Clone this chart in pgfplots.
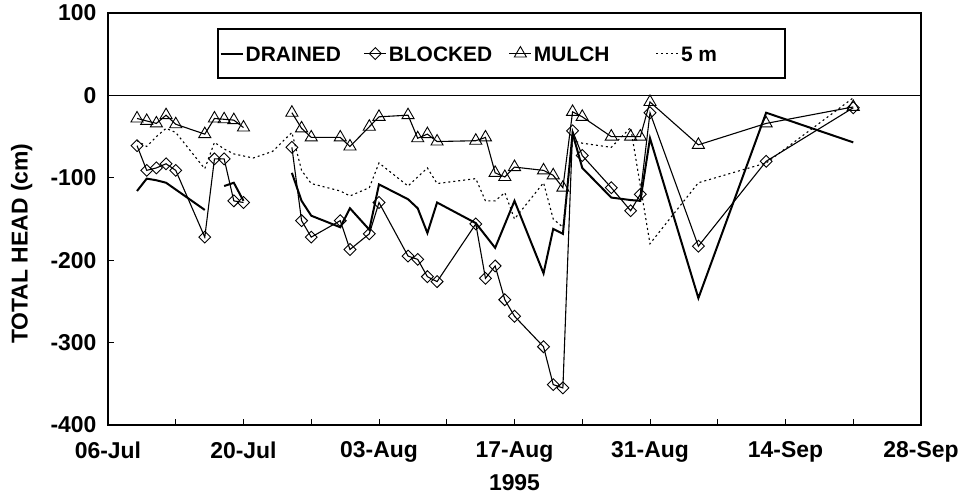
\documentclass[border=0pt]{standalone}
\usepackage{fontspec}
\setmainfont{Liberation Sans}
\usepackage{pgfplots}
\pgfplotsset{compat=1.18}
\newcommand{\lf}{\fontsize{21}{24}\selectfont\bfseries}
\newcommand{\tf}{\fontsize{23}{27}\selectfont\bfseries}
\begin{document}
\begin{tikzpicture}
\useasboundingbox (-108bp,-72bp) rectangle (861bp,425bp);
\begin{axis}[
  at={(0,0)}, anchor=south west, scale only axis,
  width=813bp, height=412bp,
  xmin=0, xmax=84, ymin=-400, ymax=100,
  xtick={0,14,...,84},
  xticklabels={06-Jul,20-Jul,03-Aug,17-Aug,31-Aug,14-Sep,28-Sep},
  minor xtick={7,21,...,77},
  ytick={-400,-300,-200,-100,0,100},
  yticklabels={-400,-300,-200,-100,0,100},
  tick pos=left, tick align=inside,
  major tick length=6bp, minor tick length=6bp,
  every tick/.style={black, line width=1bp},
  axis line style={line width=1.6bp},
  ticklabel style={font=\tf},
  xticklabel style={yshift=-13bp},
  yticklabel style={xshift=-8bp},
  label style={font=\tf},
  xlabel={1995},
  ylabel={TOTAL HEAD (cm)},
  xlabel style={at={(axis description cs:0.5,-0.14)}, anchor=center},
  ylabel style={at={(axis description cs:-0.106,0.44)}, anchor=center, rotate=0},
  unbounded coords=jump,
  legend columns=4,
  legend image code/.code={\draw[mark repeat=2,mark phase=2,#1] plot coordinates {(0bp,0bp) (11bp,0bp) (22bp,0bp)};},
  legend style={at={(axis description cs:0.134,0.963)}, anchor=north west,
    draw=black, line width=1.6bp, inner xsep=2bp, inner ysep=15bp, font=\lf,
    /tikz/every even column/.append style={column sep=0pt},
    nodes={inner sep=2bp, text height=15bp, text depth=0bp}},
]
\addplot[black, line width=0.8bp, forget plot] coordinates {(0,0) (84,0)};

\addplot[black, line width=2bp] coordinates {
(3,-116) (4,-101) (5,-103) (6,-106) (10,-139) (11,nan) (12,-110) (13,-106) (14,-128) (16,nan)
(19,-94) (20,-128) (21,-146) (24,-160) (25,-137) (27,-163) (28,-108) (31,-126) (32,-137) (33,-167)
(34,-130) (38,-155) (40,-185) (42,-128) (45,-216) (46,-162) (47,-168) (48,-46) (49,-88) (52,-124)
(54,-127) (55,-128) (56,-52) (61,-246) (68,-21) (77,-57)};
\addlegendentry{\makebox[116bp][l]{DRAINED}}

\addplot[black, line width=1.1bp, mark=square, mark size=4.2bp, mark options={rotate=45, solid, line width=0.9bp}] coordinates {
(3,-61) (4,-91) (5,-88) (6,-83) (7,-91) (10,-172) (11,-77) (12,-77) (13,-128) (14,-130) (16,nan)
(19,-63) (20,-152) (21,-172) (24,-152) (25,-187) (27,-168) (28,-130) (31,-195) (32,-199) (33,-220)
(34,-226) (38,-156) (39,-222) (40,-207) (41,-248) (42,-268) (45,-305) (46,-351) (47,-355) (48,-43)
(49,-73) (52,-112) (54,-140) (55,-120) (56,-21) (61,-183) (68,-80) (77,-15)};
\addlegendentry{\makebox[118bp][l]{BLOCKED}}

\addplot[black, line width=1.1bp, mark=triangle, mark size=7bp, mark options={solid, line width=0.9bp}] coordinates {
(3,-28) (4,-31) (5,-34) (6,-24) (7,-35) (10,-47) (11,-28) (12,-29) (13,-30) (14,-39) (16,nan)
(19,-21) (20,-40) (21,-51) (24,-51) (25,-62) (27,-38) (28,-26) (31,-24) (32,-52) (33,-47)
(34,-56) (38,-55) (39,-51) (40,-94) (41,-99) (42,-87) (45,-91) (46,-97) (47,-112) (48,-20)
(49,-26) (52,-50) (54,-50) (55,-50) (56,-8) (61,-60) (68,-34) (77,-14)};
\addlegendentry{\makebox[120bp][l]{MULCH}}

\addplot[black, line width=1.1bp, dash pattern=on 2bp off 3bp] coordinates {
(3,-55) (4,-62) (5,-50) (6,-40) (7,-45) (10,-89) (11,-57) (12,-65) (13,-71) (15,-76) (17,-68)
(19,-45) (20,-91) (21,-107) (24,-116) (25,-122) (27,-112) (28,-82) (31,-110) (33,-88) (34,-107)
(38,-101) (39,-128) (40,-128) (41,-118) (42,-150) (45,-106) (46,-150) (47,-160) (48,-55) (49,-58)
(52,-63) (54,-39) (56,-180) (61,-106) (68,-82) (77,-3)};
\addlegendentry{\makebox[100bp][l]{5 m}}
\end{axis}
\end{tikzpicture}
\end{document}
